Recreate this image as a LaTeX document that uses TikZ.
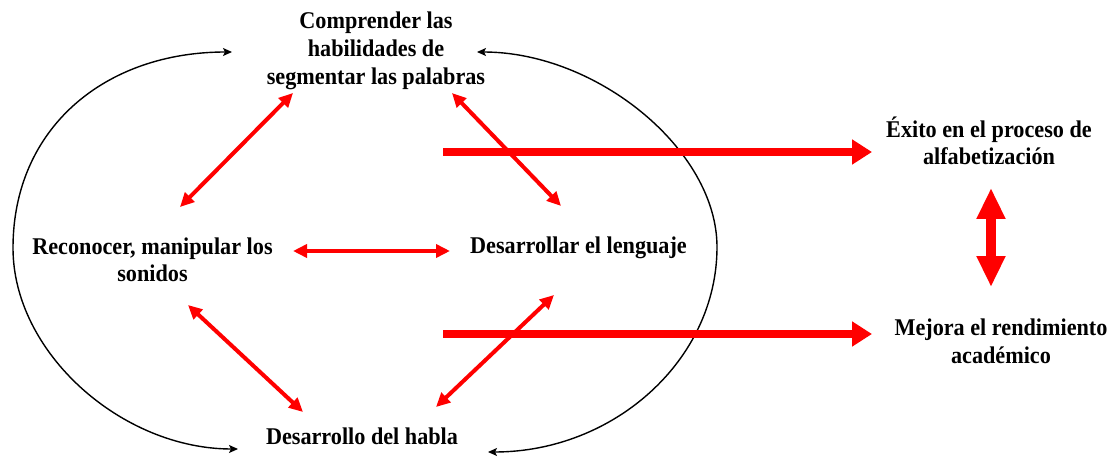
\documentclass[tikz,border=0pt]{standalone}
\usepackage{fontspec}
\setmainfont[FakeStretch=0.925]{Liberation Serif}
\usetikzlibrary{arrows.meta}
\begin{document}
\begin{tikzpicture}[x=1pt,y=-1pt,
  lbl/.style={inner sep=0pt, align=center, font=\fontsize{24}{27}\selectfont\bfseries},
  wide/.style={font=\fontsize{24}{28}\selectfont\bfseries},
  redthin/.style={draw=red, line width=4pt, {Triangle[length=14pt,width=13pt]}-{Triangle[length=14pt,width=13pt]}},
  redthick/.style={draw=red, line width=8pt, -{Triangle[length=20pt,width=24pt]}},
  redvert/.style={draw=red, line width=10pt, {Triangle[length=31pt,width=27pt]}-{Triangle[length=31pt,width=27pt]}},
  loop/.style={draw=black, line width=1.4pt, {Stealth[length=9pt,width=8pt,inset=2pt]}-{Stealth[length=9pt,width=8pt,inset=2pt]}}
]
\useasboundingbox (0,0) rectangle (1116,457);
% nodes
\node[lbl, wide] (comp) at (376,51) {Comprender las\\habilidades de\\segmentar las palabras};
\node[lbl] (reco) at (152.5,260) {Reconocer, manipular los\\sonidos};
\node[lbl, anchor=base] (lang) at (578.5,253) {Desarrollar el lenguaje};
\node[lbl, anchor=base] (habla) at (362,444) {Desarrollo del habla};
\node[lbl] (exito) at (989,141) {Éxito en el proceso de\\alfabetización};
\node[lbl, wide] (mejora) at (1001,341) {Mejora el rendimiento\\académico};
% connector end points
\coordinate (c1a) at (293,93);  \coordinate (c1b) at (180,207);
\coordinate (c2a) at (452,93);  \coordinate (c2b) at (561,206);
\coordinate (c3a) at (293,251); \coordinate (c3b) at (450,251);
\coordinate (c4a) at (188,305); \coordinate (c4b) at (303,412);
\coordinate (c5a) at (554,295); \coordinate (c5b) at (436,407);
\coordinate (t1a) at (443,152); \coordinate (t1b) at (872,152);
\coordinate (t2a) at (443,334); \coordinate (t2b) at (872,334);
\coordinate (v1a) at (991,188); \coordinate (v1b) at (991,287);
\coordinate (la1) at (232,52);  \coordinate (lm) at (13,248);  \coordinate (la2) at (238,449);
\coordinate (ra1) at (477,52);  \coordinate (rm) at (717,247); \coordinate (ra2) at (488,452);
% black loops
\draw[loop] (la1) .. controls (105,52) and (13,128) .. (lm) .. controls (13,353) and (122,449) .. (la2);
\draw[loop] (ra1) .. controls (597,52) and (717,150) .. (rm) .. controls (717,360) and (614,452) .. (ra2);
% red arrows
\draw[redthin] (c1a) -- (c1b);
\draw[redthin] (c2a) -- (c2b);
\draw[redthin] (c3a) -- (c3b);
\draw[redthin] (c4a) -- (c4b);
\draw[redthin] (c5a) -- (c5b);
\draw[redthick] (t1a) -- (t1b);
\draw[redthick] (t2a) -- (t2b);
\draw[redvert] (v1a) -- (v1b);
\end{tikzpicture}
\end{document}
